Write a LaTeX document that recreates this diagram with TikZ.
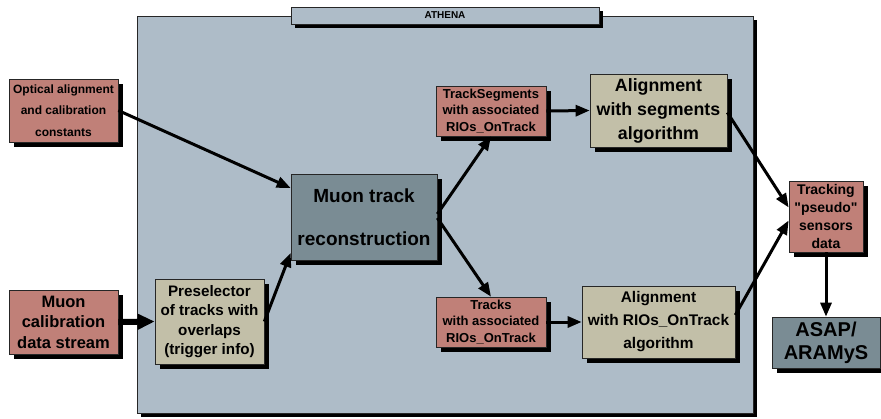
\documentclass[tikz,border=0pt]{standalone}
\usepackage{fontspec}
\setmainfont{Liberation Sans}
\usetikzlibrary{arrows.meta}

\definecolor{athenabg}{RGB}{174,188,200}
\definecolor{datared}{RGB}{192,128,120}
\definecolor{algokhaki}{RGB}{194,191,168}
\definecolor{recodark}{RGB}{122,140,148}

\pgfdeclarelayer{frame}
\pgfdeclarelayer{shade}
\pgfsetlayers{frame,shade,main}

\tikzset{
  box/.style={draw=black!85, line width=0.7pt, align=center, inner sep=0pt},
  flow/.style={line width=3pt, -{Triangle[length=14pt,width=11pt]}},
}

\begin{document}
\begin{tikzpicture}[x=1pt,y=-1pt]
\useasboundingbox (0,0) rectangle (881,418);

% framework
\begin{pgfonlayer}{frame}
\fill [black] (141,20) rectangle (757,417);
\node [box, fill=athenabg, minimum width=616pt, minimum height=397pt] (athena) at (445,214.5) {};
\fill [black] (295,11) rectangle (603,28);
\node [box, fill=athenabg, minimum width=308pt, minimum height=17pt,
  font=\bfseries\fontsize{10}{12}\selectfont] (title) at (445,15.5) {ATHENA};
\end{pgfonlayer}

% inputs
\node [box, fill=datared, minimum width=109pt, minimum height=63pt,
  font=\bfseries\fontsize{12}{21.5}\selectfont] (optic) at (63.5,110.5)
  {Optical alignment\\and calibration\\constants};
\node [box, fill=datared, minimum width=109pt, minimum height=64pt,
  font=\bfseries\fontsize{16.5}{20.5}\selectfont] (calib) at (63.5,322)
  {Muon\\calibration\\data stream};

% inside athena
\node [box, fill=algokhaki, minimum width=109pt, minimum height=85pt,
  font=\bfseries\fontsize{15.2}{19.5}\selectfont] (presel) at (209.5,321.5)
  {Preselector\\of tracks with\\overlaps\\(trigger info)};
\node [box, fill=recodark, minimum width=146pt, minimum height=86pt,
  font=\bfseries\fontsize{19}{21.5}\selectfont] (reco) at (364,217)
  {Muon track\\[21.5pt]reconstruction};
\node [box, fill=datared, minimum width=110pt, minimum height=50pt,
  font=\bfseries\fontsize{13}{16.7}\selectfont] (segs) at (491,111)
  {TrackSegments\\with associated\\RIOs\_OnTrack};
\node [box, fill=datared, minimum width=110pt, minimum height=50pt,
  font=\bfseries\fontsize{13}{16.7}\selectfont] (tracks) at (491,322)
  {Tracks\\with associated\\RIOs\_OnTrack};
\node [box, fill=algokhaki, minimum width=137pt, minimum height=73pt,
  font=\bfseries\fontsize{17.8}{24}\selectfont] (alseg) at (658.5,110.5)
  {Alignment\\with segments\\algorithm};
\node [box, fill=algokhaki, minimum width=153pt, minimum height=72pt,
  font=\bfseries\fontsize{15.4}{23}\selectfont] (alrio) at (658.5,322)
  {Alignment\\with RIOs\_OnTrack\\algorithm};

% outputs
\node [box, fill=datared, minimum width=74pt, minimum height=71pt,
  font=\bfseries\fontsize{14}{18}\selectfont] (sensors) at (826,216.5)
  {Tracking\\\textquotedbl pseudo\textquotedbl\\sensors\\data};
\node [box, fill=recodark, minimum width=108pt, minimum height=51pt,
  font=\bfseries\fontsize{20}{23}\selectfont] (asap) at (826,342.5)
  {ASAP/\\ARAMyS};

% shadows
\begin{pgfonlayer}{shade}
\foreach \n in {optic,calib,presel,reco,segs,tracks,alseg,alrio,sensors,asap}
  \fill [black] ([shift={(5pt,-5pt)}]\n.south west) rectangle ([shift={(5pt,-5pt)}]\n.north east);
\end{pgfonlayer}

% connectors
\draw [flow] (optic.east) -- ([yshift=29pt]reco.west);
\draw [line width=6pt, -{Triangle[length=17pt,width=15pt]}] (calib.east) -- (presel.west);
\draw [flow] (presel.east) -- ([yshift=-36pt]reco.west);
\draw [flow] ([yshift=3pt]reco.east) -- (segs.south);
\draw [flow] ([yshift=-1pt]reco.east) -- (tracks.north);
\draw [flow] (segs.east) -- (alseg.west);
\draw [flow] (tracks.east) -- (alrio.west);
\draw [flow] ([yshift=-2pt]alseg.east) -- ([yshift=9pt]sensors.west);
\draw [flow] ([yshift=7pt]alrio.east) -- ([yshift=-4pt]sensors.west);
\draw [flow] (sensors.south) -- (asap.north);
\end{tikzpicture}
\end{document}
